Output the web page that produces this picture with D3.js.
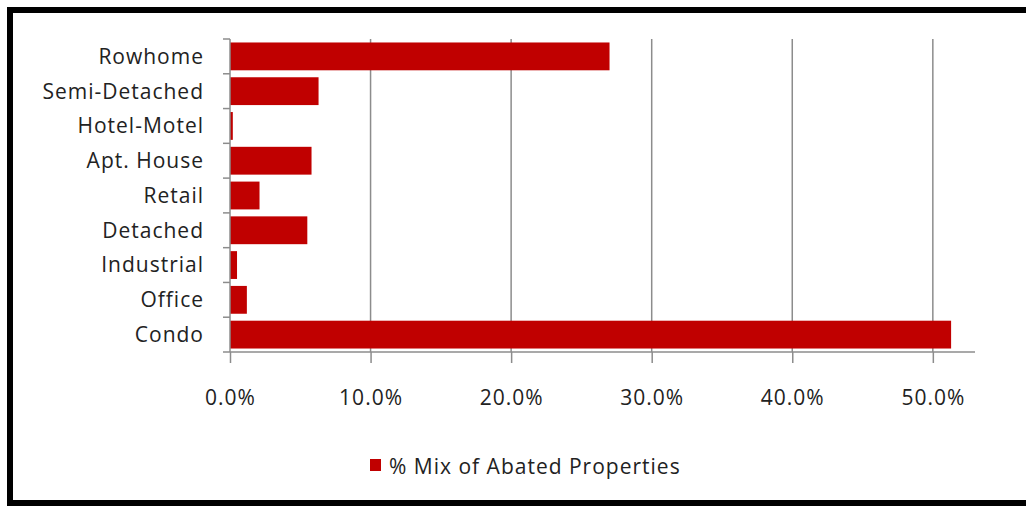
<!DOCTYPE html>
<html><head><meta charset="utf-8">
<script src="https://cdn.jsdelivr.net/npm/d3@7"></script>
<style>body{margin:0;background:#fff;} svg{display:block;} text{font-family:"Open Sans","Noto Sans",sans-serif;fill:#222;letter-spacing:1px;}</style>
</head><body>
<svg id="c" width="1026" height="506"></svg>
<script>
const categories = ["Rowhome","Semi-Detached","Hotel-Motel","Apt. House","Retail","Detached","Industrial","Office","Condo"];
const values = [0.270, 0.063, 0.002, 0.058, 0.021, 0.055, 0.005, 0.012, 0.513];
const tickValues = [0, 0.1, 0.2, 0.3, 0.4, 0.5];
const seriesName = "% Mix of Abated Properties";

(function(){
const svg = d3.select("#c");
svg.append("rect").attr("x",0).attr("y",0).attr("width",1026).attr("height",506).attr("fill","#fff");
svg.append("rect").attr("x",10).attr("y",10).attr("width",1040).attr("height",493)
  .attr("fill","none").attr("stroke","#000").attr("stroke-width",6);

const pLeft = 230, pRight = 975, pTop = 39, pBottom = 352;
const x = d3.scaleLinear().domain([0, 0.53]).range([pLeft, pRight]);
const y = d3.scaleBand().domain(categories).range([pTop, pBottom]).paddingInner(0.2).paddingOuter(0.1);

// gridlines
svg.append("g").selectAll("line").data(tickValues.slice(1)).join("line")
  .attr("x1", d=>x(d)).attr("x2", d=>x(d)).attr("y1", pTop).attr("y2", pBottom)
  .attr("stroke","#8c8c8c").attr("stroke-width",1.5);

// bars
svg.append("g").selectAll("rect").data(categories).join("rect")
  .attr("x", x(0)).attr("y", d=>y(d)).attr("height", y.bandwidth())
  .attr("width", (d,i)=>x(values[i])-x(0)).attr("fill","#c00000");

// x axis
const xa = svg.append("g").attr("transform",`translate(0,${pBottom})`)
  .call(d3.axisBottom(x).tickValues(tickValues).tickFormat(d3.format(".1%")).tickSize(11).tickPadding(27));
xa.select(".domain").attr("stroke","#8c8c8c").attr("stroke-width",1.5).attr("d",`M${pLeft},0H${pRight}`);
xa.selectAll(".tick line").attr("stroke","#8c8c8c").attr("stroke-width",1.5);
xa.selectAll("text").attr("font-size",21).attr("font-family","'Open Sans','Noto Sans',sans-serif").attr("fill","#222");

// y axis
const yBound = d3.scaleLinear().domain([0, categories.length]).range([pTop, pBottom]);
const ya = svg.append("g");
ya.append("line").attr("x1",pLeft).attr("x2",pLeft).attr("y1",pTop).attr("y2",pBottom).attr("stroke","#8c8c8c").attr("stroke-width",1.5);
ya.selectAll("line.t").data(d3.range(categories.length+1)).join("line").attr("class","t")
  .attr("x1",pLeft-7).attr("x2",pLeft).attr("y1",d=>yBound(d)).attr("y2",d=>yBound(d))
  .attr("stroke","#8c8c8c").attr("stroke-width",1.5);
ya.selectAll("text").data(categories).join("text")
  .attr("x",204).attr("y",d=>y(d)+y.bandwidth()/2).attr("dy","0.35em")
  .attr("text-anchor","end").attr("font-size",21).text(d=>d);

// legend
const lg = svg.append("g");
lg.append("rect").attr("x",370).attr("y",459).attr("width",11).attr("height",12).attr("fill","#c00000");
lg.append("text").attr("x",389).attr("y",467).attr("dy","0.35em").attr("font-size",21).text(seriesName);
})();
</script>
</body></html>
